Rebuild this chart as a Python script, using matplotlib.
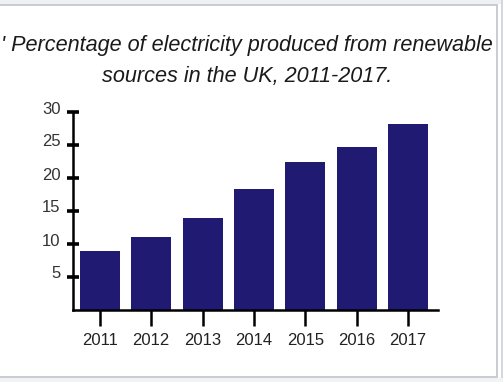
import matplotlib
matplotlib.use("Agg")
import matplotlib.pyplot as plt
import matplotlib.transforms as mtransforms
from matplotlib.patches import Rectangle

# data
years = ['2011', '2012', '2013', '2014', '2015', '2016', '2017']
percent = [8.9, 11.0, 13.9, 18.3, 22.5, 24.7, 28.2]
yticks = [5, 10, 15, 20, 25, 30]

W, H = 503, 382
plt.rcParams['font.family'] = ['Liberation Sans', 'DejaVu Sans']

fig = plt.figure(figsize=(W / 100, H / 100), dpi=100)


def px(x, y, w, h):
    # pixel box (top-left origin) -> figure fraction
    return (x / W, 1 - (y + h) / H, w / W, h / H)


def box(x, y, w, h, color):
    l, b, ww, hh = px(x, y, w, h)
    fig.patches.append(Rectangle((l, b), ww, hh, transform=fig.transFigure,
                                 facecolor=color, edgecolor='none', zorder=0))


# page frame around the chart
box(0, 0, W, 4, '#eef0f3')
box(0, 4, 498, 2, '#c9ccd2')
box(496, 4, 2, 374, '#c9ccd2')
box(0, 376, 498, 2, '#c9ccd2')
box(501, 0, 2, H, '#d4d7dc')
box(0, 378, W, 4, '#f2f3f5')

# title (two lines, first one clipped at the left edge)
fig.text(247 / W, 1 - 45.5 / H, "' Percentage of electricity produced from renewable",
         ha='center', va='center', fontsize=15.6, style='italic', color='#1a1a1a')
fig.text(247 / W, 1 - 76.5 / H, "sources in the UK, 2011-2017.",
         ha='center', va='center', fontsize=15.6, style='italic', color='#1a1a1a')

ax = fig.add_axes(px(73, 112, 365, 198))
x = range(len(years))
ax.bar(x, percent, width=0.78, color='#211a72', zorder=2)

ax.set_xlim(-0.52, 6.58)
ax.set_ylim(0, 30)
ax.set_xticks(list(x))
ax.set_xticklabels(years)
ax.set_yticks(yticks)

for s in ['top', 'right']:
    ax.spines[s].set_visible(False)
for s in ['left', 'bottom']:
    ax.spines[s].set_linewidth(1.8)
    ax.spines[s].set_color('black')

ax.tick_params(axis='x', direction='out', length=11.5, width=1.8,
               labelsize=12, labelcolor='#222222', pad=5)
ax.tick_params(axis='y', direction='inout', length=8.6, width=2.6,
               labelsize=12, labelcolor='#333333', pad=4.6)

# y labels sit slightly above their ticks
shift = mtransforms.ScaledTranslation(0, 4.5 / 100, fig.dpi_scale_trans)
for lab in ax.get_yticklabels():
    lab.set_transform(lab.get_transform() + shift)

fig.savefig('out.png', dpi=100)
